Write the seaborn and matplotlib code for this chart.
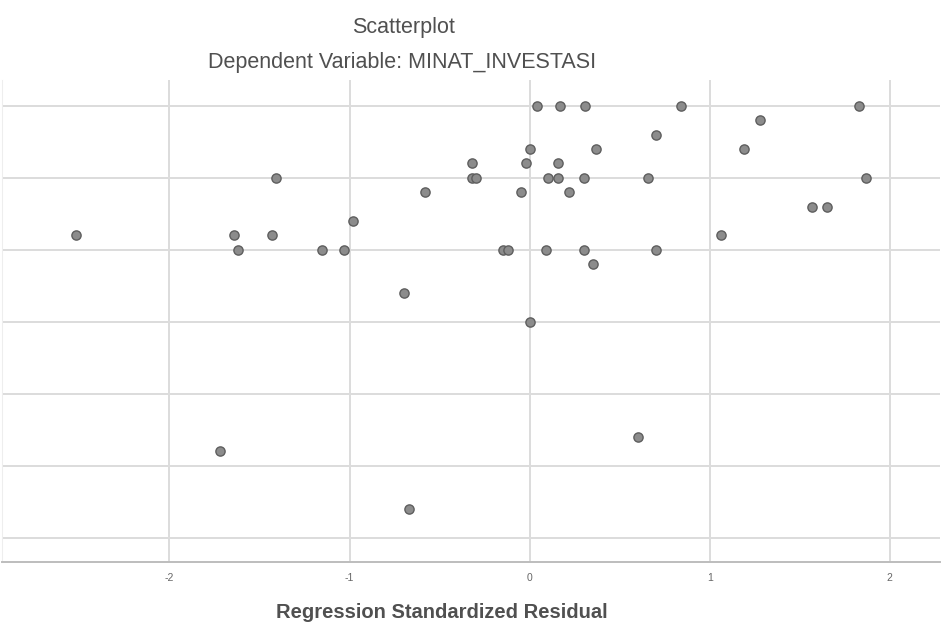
import numpy as np
import matplotlib
matplotlib.use("Agg")
import matplotlib.pyplot as plt
import seaborn as sns
import pandas as pd

# ---- data ----
std_residual = [
    -2.52, -1.64, -1.43, -1.62, -1.41, -1.15,
    0.04, 0.17, 0.31, 0.00, 0.37, -0.32, -0.02, 0.16,
    -0.32, -0.30, 0.10, 0.16, 0.30, -0.58, -0.05, 0.22,
    -0.98, -1.03, -0.15, -0.12, 0.09, 0.30, 0.35, -0.70,
    0.84, 1.83, 1.28, 0.70, 1.19, 0.66, 1.87, 1.57, 1.65,
    1.06, 0.70, -1.72, -0.67, 0.00, 0.60,
]
minat_investasi = [
    41, 41, 41, 40, 45, 40,
    50, 50, 50, 47, 47, 46, 46, 46,
    45, 45, 45, 45, 45, 44, 44, 44,
    42, 40, 40, 40, 40, 40, 39, 37,
    50, 50, 49, 48, 47, 45, 45, 43, 43,
    41, 40, 26, 22, 35, 27,
]
x_ticks = [-2, -1, 0, 1, 2]
y_ticks = [20, 25, 30, 35, 40, 45, 50]

df = pd.DataFrame({"resid": std_residual, "minat": minat_investasi})

sns.set_style("whitegrid")
plt.rcParams["font.family"] = ["Liberation Sans", "DejaVu Sans"]

fig = plt.figure(figsize=(9.45, 6.3), dpi=100)
ax = fig.add_axes([0.002, 0.108, 0.993, 0.765])

sns.scatterplot(data=df, x="resid", y="minat", ax=ax,
                s=44, color="#8c8c8c", edgecolor="#5e5e5e", linewidth=1.0,
                zorder=3)

ax.set_xlim(-2.93, 2.28)
ax.set_ylim(18.3, 51.8)
ax.set_xticks(x_ticks)
ax.set_xticklabels([str(t) for t in x_ticks], fontsize=7.5, color="#666666")
ax.set_yticks(y_ticks)
ax.set_yticklabels([])
ax.tick_params(axis="both", length=0, pad=8)
ax.grid(True, color="#dcdcdc", linewidth=1.4)

ax.set_xlabel("")
ax.set_ylabel("")
for side in ["top", "right"]:
    ax.spines[side].set_visible(False)
ax.spines["bottom"].set_color("#bdbdbd")
ax.spines["bottom"].set_linewidth(1.4)
ax.spines["left"].set_color("#eeeeee")

fig.text(0.427, 0.957, "Scatterplot", ha="center", va="center",
         fontsize=15.5, color="#505050")
fig.text(0.425, 0.901, "Dependent Variable: MINAT_INVESTASI", ha="center",
         va="center", fontsize=15.5, color="#505050")
fig.text(0.468, 0.028, "Regression Standardized Residual", ha="center",
         va="center", fontsize=14.5, color="#505050", fontweight="bold")

plt.savefig("out.png", dpi=100)
